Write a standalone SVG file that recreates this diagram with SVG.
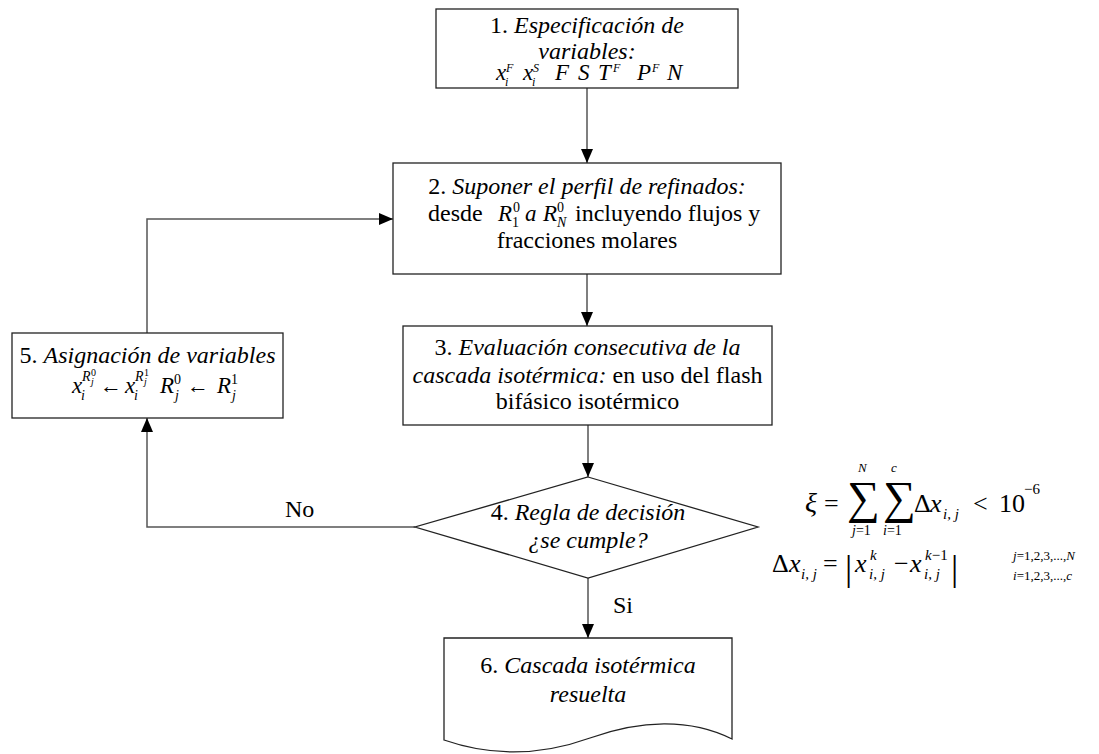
<svg xmlns="http://www.w3.org/2000/svg" width="1099" height="754" viewBox="0 0 1099 754" font-family="'Liberation Serif', Tinos, 'DejaVu Serif', 'Noto Serif', serif">
<style>
text{font-family:'Liberation Serif', Tinos, 'DejaVu Serif', 'Noto Serif', serif;font-size:24px;fill:#000}
.it{font-style:italic}
.c{text-anchor:middle}
.box{fill:#fff;stroke:#222;stroke-width:1.3}
.con{fill:none;stroke:#555;stroke-width:1.5}
.m{font-size:23px;font-style:italic}
.s{font-size:14px}
.sp{font-size:12px;font-style:italic}
.ss{font-size:10px}
</style>
<defs>
<marker id="ah" markerUnits="userSpaceOnUse" markerWidth="14" markerHeight="12" refX="14" refY="6" orient="auto">
<path d="M0,0 L14,6 L0,12 z" fill="#000"/>
</marker>
</defs>
<g id="connectors">
<line class="con" x1="587" y1="88" x2="587" y2="163" marker-end="url(#ah)"/>
<line class="con" x1="587" y1="274" x2="587" y2="326" marker-end="url(#ah)"/>
<line class="con" x1="588" y1="425" x2="588" y2="477" marker-end="url(#ah)"/>
<polyline class="con" points="415,527 147,527 147,418" marker-end="url(#ah)"/>
<polyline class="con" points="147,333 147,219 393,219" marker-end="url(#ah)"/>
<line class="con" x1="588" y1="578" x2="588" y2="638" marker-end="url(#ah)"/>
<text x="285" y="517">No</text>
<text x="613" y="613">Si</text>
</g>
<g id="node1">
<rect class="box" x="436" y="9" width="302" height="79"/>
<text class="c" x="587" y="33">1. <tspan class="it">Especificación de</tspan></text>
<text class="c it" x="587" y="59">variables:</text>
<text class="m" x="496" y="80">x</text><text class="sp" x="505" y="86">i</text><text class="sp" x="506" y="72">F</text>
<text class="m" x="523" y="80">x</text><text class="sp" x="532" y="86">i</text><text class="sp" x="533" y="72">S</text>
<text class="m" x="555" y="80">F</text>
<text class="m" x="578" y="80">S</text>
<text class="m" x="598" y="80">T</text><text class="sp" x="613" y="72">F</text>
<text class="m" x="637" y="80">P</text><text class="sp" x="652" y="72">F</text>
<text class="m" x="667" y="80">N</text>
</g>
<g id="node2">
<rect class="box" x="393" y="163" width="388" height="111"/>
<text class="c" x="587" y="194">2. <tspan class="it">Suponer el perfil de refinados:</tspan></text>
<text x="428" y="221">desde</text>
<text class="m" x="498" y="221">R</text><text class="s" x="512" y="227">1</text><text class="s" x="513" y="212">0</text>
<text class="m" x="525" y="221">a</text>
<text class="m" x="543" y="221">R</text><text class="s it" x="557" y="227">N</text><text class="s" x="557" y="212">0</text>
<text x="575" y="221">incluyendo flujos y</text>
<text class="c" x="587" y="248">fracciones molares</text>
</g>
<g id="node3">
<rect class="box" x="403" y="326" width="369" height="99"/>
<text class="c" x="587.5" y="355">3. <tspan class="it">Evaluación consecutiva de la</tspan></text>
<text class="c" x="587.5" y="383"><tspan class="it">cascada isotérmica:</tspan> en uso del flash</text>
<text class="c" x="587.5" y="409">bifásico isotérmico</text>
</g>
<g id="node4">
<polygon class="box" points="588,477 758,527 588,578 415,527"/>
<text class="c" x="588" y="520">4. <tspan class="it">Regla de decisión</tspan></text>
<text class="c it" x="588" y="548">¿se cumple?</text>
</g>
<g id="node5">
<rect class="box" x="12" y="333" width="271" height="85"/>
<text class="c" x="147.5" y="363">5. <tspan class="it">Asignación de variables</tspan></text>
<text class="m" x="72" y="393">x</text><text class="s it" x="81" y="400">i</text>
<text class="s it" x="82" y="381">R</text><text class="ss it" x="91" y="385">j</text><text class="ss" x="91" y="376">0</text>
<text x="100" y="393" style="font-size:22px">←</text>
<text class="m" x="125" y="393">x</text><text class="s it" x="134" y="400">i</text>
<text class="s it" x="135" y="381">R</text><text class="ss it" x="144" y="385">j</text><text class="ss" x="144" y="376">1</text>
<text class="m" x="160" y="393">R</text><text class="s" x="174" y="384">0</text><text class="s it" x="175" y="400">j</text>
<text x="187" y="393" style="font-size:22px">←</text>
<text class="m" x="217" y="393">R</text><text class="s" x="231" y="384">1</text><text class="s it" x="232" y="400">j</text>
</g>
<g id="node6">
<path class="box" d="M444,638 L732,638 L732,739 C690,718 640,720 590,738 C540,756 490,756 444,740 Z"/>
<text class="c" x="588" y="673">6. <tspan class="it">Cascada isotérmica</tspan></text>
<text class="c it" x="588" y="702">resuelta</text>
</g>
<g id="formula">
<text class="it" x="805" y="512" style="font-size:28px">ξ</text>
<text x="824" y="512" style="font-size:26px">=</text>
<text x="847" y="513" style="font-size:46px">∑</text>
<text x="883" y="513" style="font-size:46px">∑</text>
<text class="sp" x="858" y="472" style="font-size:13px">N</text>
<text class="sp" x="891" y="472" style="font-size:13px">c</text>
<text class="s" x="852" y="535"><tspan class="it">j</tspan>=1</text>
<text class="s" x="883" y="535"><tspan class="it">i</tspan>=1</text>
<text x="914" y="512" style="font-size:26px">Δ</text>
<text class="it" x="930" y="512" style="font-size:26px">x</text>
<text class="it" x="943" y="519" style="font-size:15px">i, j</text>
<text x="973" y="512" style="font-size:26px">&lt;</text>
<text x="999" y="512" style="font-size:26px">10</text>
<text x="1024" y="494" style="font-size:15px">−6</text>
<text x="772" y="572" style="font-size:26px">Δ</text>
<text class="it" x="789" y="572" style="font-size:26px">x</text>
<text class="it" x="801" y="579" style="font-size:15px">i, j</text>
<text x="823" y="572" style="font-size:26px">=</text>
<text x="845" y="580" style="font-size:36px">|</text>
<text class="it" x="855" y="572" style="font-size:26px">x</text>
<text class="it" x="870" y="560" style="font-size:15px">k</text>
<text class="it" x="869" y="579" style="font-size:15px">i, j</text>
<text x="894" y="572" style="font-size:26px">−</text>
<text class="it" x="910" y="572" style="font-size:26px">x</text>
<text x="925" y="560" style="font-size:15px"><tspan class="it">k</tspan>−1</text>
<text class="it" x="924" y="579" style="font-size:15px">i, j</text>
<text x="951" y="580" style="font-size:36px">|</text>
<text x="1013" y="560" style="font-size:13px"><tspan class="it">j</tspan>=1,2,3,...,<tspan class="it">N</tspan></text>
<text x="1013" y="580" style="font-size:13px"><tspan class="it">i</tspan>=1,2,3,...,<tspan class="it">c</tspan></text>
</g>
</svg>
